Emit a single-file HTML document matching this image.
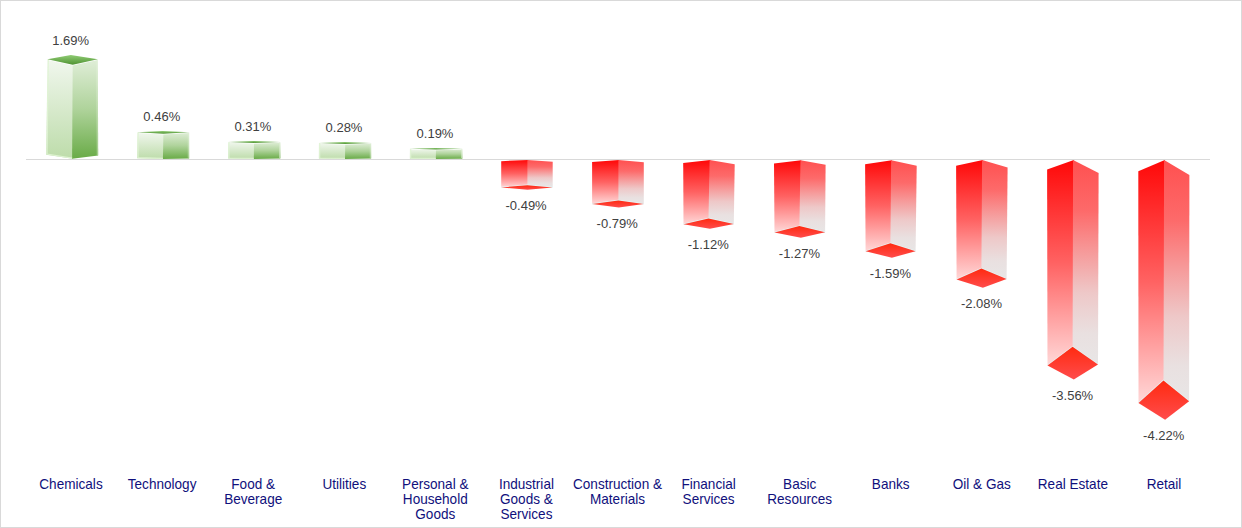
<!DOCTYPE html>
<html><head><meta charset="utf-8"><title>Sector performance</title>
<style>
html,body{margin:0;padding:0;background:#fff;}
body{width:1242px;height:528px;overflow:hidden;}
svg{display:block;}
.dl text{font-family:"Liberation Sans",Arial,sans-serif;font-size:13px;fill:#404040;text-anchor:middle;}
.cat text{font-family:"Liberation Sans",Arial,sans-serif;font-size:14px;fill:#10107c;text-anchor:middle;}
</style></head>
<body>
<svg width="1242" height="528" viewBox="0 0 1242 528">
<defs>
<linearGradient id="gL" x1="0" y1="0" x2="0" y2="1"><stop offset="0" stop-color="#f1f7ee"/><stop offset="1" stop-color="#bddcaa"/></linearGradient>
<linearGradient id="gR" x1="0" y1="0" x2="0" y2="1"><stop offset="0" stop-color="#e0eed8"/><stop offset="0.5" stop-color="#afd39b"/><stop offset="1" stop-color="#69ab47"/></linearGradient>
<linearGradient id="gT" x1="0" y1="0" x2="0" y2="1"><stop offset="0" stop-color="#90cc74"/><stop offset="1" stop-color="#4f9232"/></linearGradient>
<linearGradient id="rL" x1="0" y1="0" x2="0" y2="1"><stop offset="0" stop-color="#ff0808"/><stop offset="0.5" stop-color="#ff6262"/><stop offset="1" stop-color="#ffd8d8"/></linearGradient>
<linearGradient id="rR" x1="0" y1="0" x2="0" y2="1"><stop offset="0" stop-color="#ff5050"/><stop offset="0.25" stop-color="#fd6a6a"/><stop offset="0.45" stop-color="#f69a9a"/><stop offset="0.65" stop-color="#eec8c8"/><stop offset="0.85" stop-color="#e9e0e0"/><stop offset="1" stop-color="#e8e6e6"/></linearGradient>
<linearGradient id="rT" x1="0" y1="0" x2="0" y2="1"><stop offset="0" stop-color="#ff2a10"/><stop offset="1" stop-color="#ff4c4c"/></linearGradient>
</defs>
<rect x="0.5" y="0.5" width="1241" height="527" fill="#fff" stroke="#d9d9d9" stroke-width="1"/>
<line x1="26" y1="159.5" x2="1210" y2="159.5" stroke="#d9d9d9" stroke-width="1"/>
<g class="bars">
<polygon points="47.5,59.2 73.4,64.8 72.8,158.8 46.2,154.7" fill="url(#gL)"/>
<polygon points="72.7,64.8 97.8,59.3 98.2,155.6 72.1,158.8" fill="url(#gR)"/>
<polyline points="47.5,59.2 72.7,64.8 97.8,59.3" fill="none" stroke="#ffffff" stroke-opacity="0.9" stroke-width="1.6"/>
<polyline points="48.3,59.2 47.0,154.1 72.1,158.2" fill="none" stroke="#e0f4d4" stroke-opacity="0.9" stroke-width="1.2"/>
<polyline points="96.9,59.3 97.3,155.1" fill="none" stroke="#e2f3d8" stroke-opacity="0.55" stroke-width="1"/>
<polygon points="70.8,55.1 97.8,59.3 72.7,64.8 47.5,59.2" fill="url(#gT)"/>
<polygon points="137.3,132.3 164.1,133.7 163.6,159.0 137.2,158.3" fill="url(#gL)"/>
<polygon points="163.4,133.7 189.2,132.3 189.2,158.4 162.9,159.0" fill="url(#gR)"/>
<polyline points="137.3,132.3 163.4,133.7 189.2,132.3" fill="none" stroke="#ffffff" stroke-opacity="0.9" stroke-width="1.6"/>
<polyline points="138.1,132.3 138.0,157.7 162.9,158.4" fill="none" stroke="#e0f4d4" stroke-opacity="0.9" stroke-width="1.2"/>
<polyline points="188.3,132.3 188.3,157.9" fill="none" stroke="#e2f3d8" stroke-opacity="0.55" stroke-width="1"/>
<polygon points="162.5,131.1 189.2,132.3 163.4,133.7 137.3,132.3" fill="url(#gT)"/>
<polygon points="228.1,142.0 254.7,142.9 254.5,159.0 228.1,158.6" fill="url(#gL)"/>
<polygon points="254.0,142.9 280.4,142.0 280.4,158.6 253.8,159.0" fill="url(#gR)"/>
<polyline points="228.1,142.0 254.0,142.9 280.4,142.0" fill="none" stroke="#ffffff" stroke-opacity="0.9" stroke-width="1.6"/>
<polyline points="228.9,142.0 228.9,158.0 253.8,158.4" fill="none" stroke="#e0f4d4" stroke-opacity="0.9" stroke-width="1.2"/>
<polyline points="279.5,142.0 279.5,158.1" fill="none" stroke="#e2f3d8" stroke-opacity="0.55" stroke-width="1"/>
<polygon points="253.5,140.9 280.4,142.0 254.0,142.9 228.1,142.0" fill="url(#gT)"/>
<polygon points="318.9,143.0 345.9,143.9 345.7,159.0 318.9,158.6" fill="url(#gL)"/>
<polygon points="345.2,143.9 371.2,143.0 371.2,158.6 345.0,159.0" fill="url(#gR)"/>
<polyline points="318.9,143.0 345.2,143.9 371.2,143.0" fill="none" stroke="#ffffff" stroke-opacity="0.9" stroke-width="1.6"/>
<polyline points="319.7,143.0 319.7,158.0 345.0,158.4" fill="none" stroke="#e0f4d4" stroke-opacity="0.9" stroke-width="1.2"/>
<polyline points="370.3,143.0 370.3,158.1" fill="none" stroke="#e2f3d8" stroke-opacity="0.55" stroke-width="1"/>
<polygon points="344.7,142.1 371.2,143.0 345.2,143.9 318.9,143.0" fill="url(#gT)"/>
<polygon points="409.9,148.7 436.7,149.5 436.5,159.0 409.9,158.7" fill="url(#gL)"/>
<polygon points="436.0,149.5 462.4,148.7 462.4,158.7 435.8,159.0" fill="url(#gR)"/>
<polyline points="409.9,148.7 436.0,149.5 462.4,148.7" fill="none" stroke="#ffffff" stroke-opacity="0.9" stroke-width="1.6"/>
<polyline points="410.7,148.7 410.7,158.1 435.8,158.4" fill="none" stroke="#e0f4d4" stroke-opacity="0.9" stroke-width="1.2"/>
<polyline points="461.5,148.7 461.5,158.2" fill="none" stroke="#e2f3d8" stroke-opacity="0.55" stroke-width="1"/>
<polygon points="435.5,147.9 462.4,148.7 436.0,149.5 409.9,148.7" fill="url(#gT)"/>
<polygon points="501.2,161.2 528.1,159.9 528.1,185.2 501.2,187.4" fill="url(#rL)"/>
<polygon points="527.4,159.9 552.7,161.8 552.7,187.4 527.4,185.2" fill="url(#rR)"/>
<polyline points="501.2,187.4 527.4,185.2 552.7,187.4" fill="none" stroke="#e4f6f6" stroke-opacity="0.9" stroke-width="1.4"/>
<polygon points="527.4,185.2 552.7,187.4 527.6,189.8 501.2,187.4" fill="url(#rT)"/>
<polygon points="592.1,161.9 619.1,160.1 619.1,200.5 592.1,203.9" fill="url(#rL)"/>
<polygon points="618.4,160.1 643.8,162.3 643.8,203.9 618.4,200.5" fill="url(#rR)"/>
<polyline points="592.1,203.9 618.4,200.5 643.8,203.9" fill="none" stroke="#e4f6f6" stroke-opacity="0.9" stroke-width="1.4"/>
<polygon points="618.4,200.5 643.8,203.9 618.8,207.6 592.1,203.9" fill="url(#rT)"/>
<polygon points="683.2,162.9 710.3,160.0 709.2,218.4 683.5,224.3" fill="url(#rL)"/>
<polygon points="709.6,160.0 734.7,164.2 733.8,224.0 708.5,218.4" fill="url(#rR)"/>
<polyline points="683.5,224.3 708.5,218.4 733.8,224.0" fill="none" stroke="#e4f6f6" stroke-opacity="0.9" stroke-width="1.4"/>
<polygon points="708.5,218.4 733.8,224.0 709.9,228.7 683.5,224.3" fill="url(#rT)"/>
<polygon points="774.0,163.5 801.2,160.2 800.1,226.1 774.5,232.4" fill="url(#rL)"/>
<polygon points="800.5,160.2 825.6,164.8 825.1,232.3 799.4,226.1" fill="url(#rR)"/>
<polyline points="774.5,232.4 799.4,226.1 825.1,232.3" fill="none" stroke="#e4f6f6" stroke-opacity="0.9" stroke-width="1.4"/>
<polygon points="799.4,226.1 825.1,232.3 800.9,237.7 774.5,232.4" fill="url(#rT)"/>
<polygon points="865.1,164.3 891.9,160.2 891.1,243.3 865.6,251.3" fill="url(#rL)"/>
<polygon points="891.2,160.2 916.7,165.8 915.6,251.2 890.4,243.3" fill="url(#rR)"/>
<polyline points="865.6,251.3 890.4,243.3 915.6,251.2" fill="none" stroke="#e4f6f6" stroke-opacity="0.9" stroke-width="1.4"/>
<polygon points="890.4,243.3 915.6,251.2 891.9,257.7 865.6,251.3" fill="url(#rT)"/>
<polygon points="956.1,165.8 982.8,160.1 982.1,268.6 956.6,279.4" fill="url(#rL)"/>
<polygon points="982.1,160.1 1007.6,167.4 1006.6,279.1 981.4,268.6" fill="url(#rR)"/>
<polyline points="956.6,279.4 981.4,268.6 1006.6,279.1" fill="none" stroke="#e4f6f6" stroke-opacity="0.9" stroke-width="1.4"/>
<polygon points="981.4,268.6 1006.6,279.1 982.9,287.7 956.6,279.4" fill="url(#rT)"/>
<polygon points="1047.1,169.5 1073.8,159.9 1073.3,346.8 1047.5,365.5" fill="url(#rL)"/>
<polygon points="1073.1,159.9 1098.6,172.9 1098.0,364.5 1072.6,346.8" fill="url(#rR)"/>
<polyline points="1047.5,365.5 1072.6,346.8 1098.0,364.5" fill="none" stroke="#e4f6f6" stroke-opacity="0.9" stroke-width="1.4"/>
<polygon points="1072.6,346.8 1098.0,364.5 1073.8,379.5 1047.5,365.5" fill="url(#rT)"/>
<polygon points="1138.3,171.3 1164.8,159.9 1164.2,380.4 1138.5,403.1" fill="url(#rL)"/>
<polygon points="1164.1,159.9 1189.4,175.0 1189.1,401.2 1163.5,380.4" fill="url(#rR)"/>
<polyline points="1138.5,403.1 1163.5,380.4 1189.1,401.2" fill="none" stroke="#e4f6f6" stroke-opacity="0.9" stroke-width="1.4"/>
<polygon points="1163.5,380.4 1189.1,401.2 1165.1,419.8 1138.5,403.1" fill="url(#rT)"/>
</g>
<g class="dl">
<text x="70.7" y="44.9">1.69%</text>
<text x="161.8" y="120.9">0.46%</text>
<text x="252.9" y="130.7">0.31%</text>
<text x="344.0" y="131.9">0.28%</text>
<text x="435.0" y="137.7">0.19%</text>
<text x="526.1" y="209.8">-0.49%</text>
<text x="617.2" y="227.6">-0.79%</text>
<text x="708.3" y="248.7">-1.12%</text>
<text x="799.4" y="257.7">-1.27%</text>
<text x="890.4" y="277.7">-1.59%</text>
<text x="981.5" y="307.7">-2.08%</text>
<text x="1072.6" y="399.5">-3.56%</text>
<text x="1163.7" y="439.8">-4.22%</text>
</g>
<g class="cat">
<text transform="translate(71.0,488.7) scale(0.97,1)">Chemicals</text>
<text transform="translate(162.1,488.7) scale(0.97,1)">Technology</text>
<text transform="translate(253.2,488.7) scale(0.97,1)">Food &amp;</text>
<text transform="translate(253.2,503.7) scale(0.97,1)">Beverage</text>
<text transform="translate(344.3,488.7) scale(0.97,1)">Utilities</text>
<text transform="translate(435.3,488.7) scale(0.97,1)">Personal &amp;</text>
<text transform="translate(435.3,503.7) scale(0.97,1)">Household</text>
<text transform="translate(435.3,518.7) scale(0.97,1)">Goods</text>
<text transform="translate(526.4,488.7) scale(0.97,1)">Industrial</text>
<text transform="translate(526.4,503.7) scale(0.97,1)">Goods &amp;</text>
<text transform="translate(526.4,518.7) scale(0.97,1)">Services</text>
<text transform="translate(617.5,488.7) scale(0.97,1)">Construction &amp;</text>
<text transform="translate(617.5,503.7) scale(0.97,1)">Materials</text>
<text transform="translate(708.6,488.7) scale(0.97,1)">Financial</text>
<text transform="translate(708.6,503.7) scale(0.97,1)">Services</text>
<text transform="translate(799.7,488.7) scale(0.97,1)">Basic</text>
<text transform="translate(799.7,503.7) scale(0.97,1)">Resources</text>
<text transform="translate(890.7,488.7) scale(0.97,1)">Banks</text>
<text transform="translate(981.8,488.7) scale(0.97,1)">Oil &amp; Gas</text>
<text transform="translate(1072.9,488.7) scale(0.97,1)">Real Estate</text>
<text transform="translate(1164.0,488.7) scale(0.97,1)">Retail</text>
</g>
</svg>
</body></html>
